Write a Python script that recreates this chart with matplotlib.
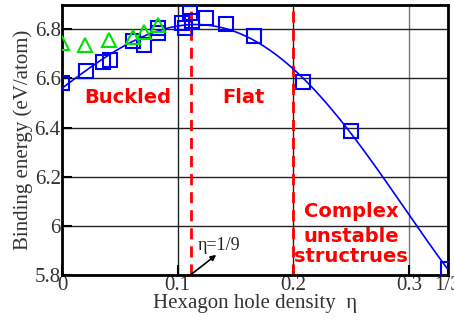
import numpy as np
import matplotlib.pyplot as plt

# binding energies vs hexagon hole density
sq_x = [0.0, 0.0207, 0.0357, 0.0415, 0.0616, 0.0709, 0.083, 0.083,
        0.104, 0.1066, 0.1106, 0.112, 0.1245, 0.142, 0.166, 0.208, 0.25, 1/3]
sq_y = [6.582, 6.631, 6.666, 6.675, 6.751, 6.737, 6.784, 6.805,
        6.824, 6.805, 6.865, 6.833, 6.846, 6.822, 6.773, 6.585, 6.386, 5.823]
tri_x = [0.0, 0.020, 0.041, 0.0616, 0.0709, 0.083]
tri_y = [6.745, 6.737, 6.756, 6.767, 6.789, 6.816]

xticks = [0, 0.1, 0.2, 0.3, 1/3]
xticklabels = ['0', '0.1', '0.2', '0.3', '1/3']
yticks = [5.8, 6.0, 6.2, 6.4, 6.6, 6.8]
yticklabels = ['5.8', '6', '6.2', '6.4', '6.6', '6.8']

serif = 'Liberation Serif'

fig = plt.figure(figsize=(4.54, 3.23), dpi=100)
ax = fig.add_axes([0.1366, 0.1486, 0.8494, 0.8368])

# smooth polynomial fit through the squares
w = np.ones(len(sq_x))
w[-3:] = 3
coef = np.polyfit(sq_x, sq_y, 4, w=w)
xf = np.linspace(0, 1/3, 200)
ax.plot(xf, np.polyval(coef, xf), color='#0000ff', lw=1.2, zorder=3)

ax.plot(sq_x, sq_y, 's', ms=9.5, mfc='none', mec='#0000ff', mew=1.5, zorder=4)
ax.plot(tri_x, tri_y, '^', ms=10, mfc='none', mec='#00e000', mew=1.5, zorder=5)

# phase boundaries
for xb in (1/9, 0.2):
    ax.axvline(xb, color='#ff0000', lw=2, ls=(0, (4, 2.5)), zorder=2)

ax.set_xlim(0, 1/3)
ax.set_ylim(5.8, 6.9)
ax.set_xticks(xticks)
ax.set_xticklabels(xticklabels, fontfamily=serif, fontsize=15, color='#333333')
ax.set_yticks(yticks)
ax.set_yticklabels(yticklabels, fontfamily=serif, fontsize=15, color='#333333')
ax.tick_params(direction='in', length=7, width=1.5, pad=1)
ax.grid(True, color='#222222', lw=1)
ax.get_xgridlines()[3].set_color('#777777')
for s in ax.spines.values():
    s.set_linewidth(2)

ax.set_xlabel('Hexagon hole density  η', fontfamily=serif, fontsize=15,
              color='#333333', labelpad=-1)
ax.set_ylabel('Binding energy (eV/atom)', fontfamily=serif, fontsize=15,
              color='#333333', labelpad=1)

bold = dict(color='#ff0000', fontweight='bold', fontfamily='DejaVu Sans', fontsize=14)
ax.text(0.057, 6.524, 'Buckled', ha='center', va='center', **bold)
ax.text(0.157, 6.524, 'Flat', ha='center', va='center', **bold)
ax.text(0.250, 6.06, 'Complex', ha='center', va='center', **bold)
ax.text(0.250, 5.955, 'unstable', ha='center', va='center', **bold)
ax.text(0.250, 5.876, 'structrues', ha='center', va='center', **bold)

ax.annotate('η=1/9', xy=(0.1333, 5.882), xytext=(0.117, 5.92),
            fontfamily=serif, fontsize=13, color='#222222', va='center')
ax.annotate('', xy=(0.1333, 5.882), xytext=(0.111, 5.8),
            arrowprops=dict(arrowstyle='-|>', color='black', lw=1.2,
                            mutation_scale=8, shrinkA=0, shrinkB=0))

fig.savefig('out.png', dpi=100)
